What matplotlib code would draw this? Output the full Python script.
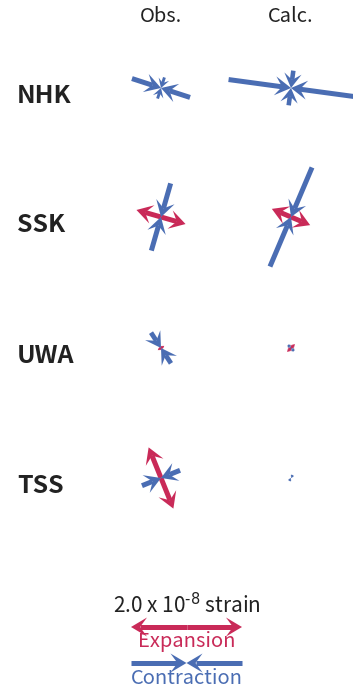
import numpy as np
import matplotlib
matplotlib.use("Agg")
import matplotlib.pyplot as plt
from matplotlib.patches import Polygon

plt.rcParams["font.family"] = ["Noto Sans CJK JP", "DejaVu Sans"]

RED = "#c92a58"
BLUE = "#4a6db3"
TEXT = "#222222"

# principal strains in units of 1e-8 (+ expansion, - contraction), axis angle in degrees (ccw from east)
stations = ["NHK", "SSK", "UWA", "TSS"]
obs_e1 = [-1.10, -1.26, -0.66, 1.19]
obs_a1 = [-18, 74, 123, 112]
obs_e2 = [-0.40, 0.92, 0.14, -0.74]
obs_a2 = [72, -16, 33, 22]
calc_e1 = [-2.27, -1.94, -0.15, -0.12]
calc_a1 = [-7.7, 67, 135, 60]
calc_e2 = [-0.63, 0.75, 0.20, 0.0]
calc_a2 = [82.3, -23, 45, 150]
legend_strain = 2.0

W, H = 353, 691
PX_PER_UNIT = 111 / legend_strain
row_y = [88, 217, 348, 478]
col_x = {"obs": 161, "calc": 291}
LW = 3.6
HEAD_L, HEAD_W, NOTCH = 16.0, 9.5, 7.0


def head(ax, tip, u, color, scale):
    # notched arrowhead with the tip at `tip`, pointing along unit vector u
    n = np.array([-u[1], u[0]])
    L, Wd, N = HEAD_L * scale, HEAD_W * scale, NOTCH * scale
    pts = [tip, tip - L * u + Wd * n, tip - (L - N) * u, tip - L * u - Wd * n]
    ax.add_patch(Polygon(pts, closed=True, color=color, lw=0, zorder=3))
    return tip - (L - N) * u


def strain_bar(ax, cx, cy, e, ang):
    if e == 0:
        return
    length = abs(e) * PX_PER_UNIT
    half = length / 2
    th = np.deg2rad(ang)
    d = np.array([np.cos(th), -np.sin(th)])
    c = np.array([cx, cy], dtype=float)
    scale = min(1.0, half / (HEAD_L * 1.2))
    lw = LW * max(scale, 0.5)
    color = RED if e > 0 else BLUE
    for s in (1, -1):
        end = c + s * half * d
        if e > 0:
            back = head(ax, end, s * d, color, scale)
            ax.plot([c[0], back[0]], [c[1], back[1]], color=color, lw=lw, solid_capstyle="butt", zorder=2)
        else:
            back = head(ax, c, -s * d, color, scale)
            ax.plot([end[0], back[0]], [end[1], back[1]], color=color, lw=lw, solid_capstyle="butt", zorder=2)


fig = plt.figure(figsize=(W / 100, H / 100), dpi=100)
ax = fig.add_axes([0, 0, 1, 1])
ax.set_xlim(0, W)
ax.set_ylim(H, 0)
ax.axis("off")

ax.text(col_x["obs"], 16, "Obs.", ha="center", va="center", fontsize=14.5, color=TEXT)
ax.text(col_x["calc"], 16, "Calc.", ha="center", va="center", fontsize=14.5, color=TEXT)

for i, name in enumerate(stations):
    ax.text(17, row_y[i] + 8, name, ha="left", va="center", fontsize=18, fontweight="bold", color=TEXT)
    strain_bar(ax, col_x["obs"], row_y[i], obs_e1[i], obs_a1[i])
    strain_bar(ax, col_x["obs"], row_y[i], obs_e2[i], obs_a2[i])
    strain_bar(ax, col_x["calc"], row_y[i], calc_e1[i], calc_a1[i])
    strain_bar(ax, col_x["calc"], row_y[i], calc_e2[i], calc_a2[i])

lx = 186.5
ax.text(lx, 606, r"2.0 x 10$^{\text{-8}}$ strain", ha="center", va="center", fontsize=15, color=TEXT)
strain_bar(ax, lx, 627, legend_strain, 0)
ax.text(lx, 641, "Expansion", ha="center", va="center", fontsize=14.5, color=RED)
strain_bar(ax, lx, 663, -legend_strain, 0)
ax.text(lx, 679, "Contraction", ha="center", va="center", fontsize=14.5, color=BLUE)

fig.savefig("out.png", dpi=100)
